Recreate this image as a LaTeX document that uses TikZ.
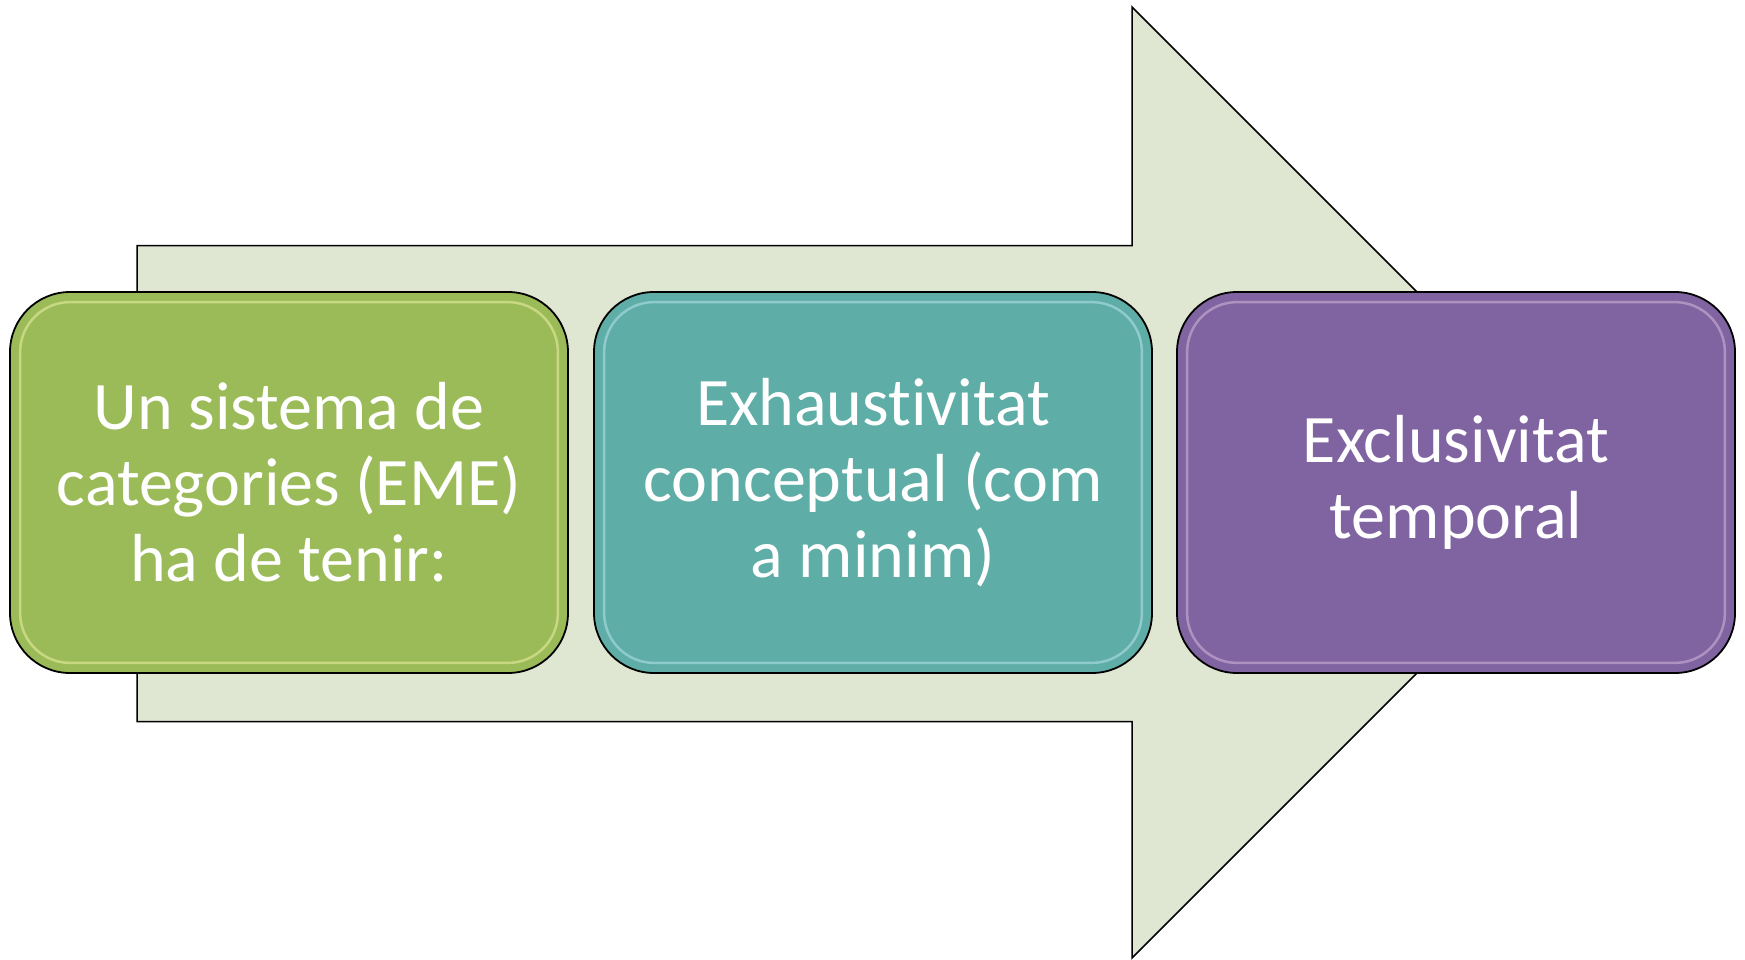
\documentclass[tikz,border=0pt]{standalone}
\usepackage{fontspec}
\setmainfont[RawFeature={-liga}]{Carlito}
\definecolor{arrowfill}{HTML}{DFE6D2}
\definecolor{cgreen}{HTML}{9BBB59}
\definecolor{cteal}{HTML}{5EADA6}
\definecolor{cpurple}{HTML}{8064A2}
\begin{document}
\begin{tikzpicture}[x=1pt,y=-1pt,
  box/.style={draw=black, line width=1.8pt, rounded corners=60pt,
    minimum width=558pt, minimum height=381pt, inner sep=0pt,
    text=white, align=center, font=\fontsize{68}{76}\selectfont},
  gloss/.style={line width=2.5pt, rounded corners=50pt, opacity=0.45}]
\useasboundingbox (0,0) rectangle (1745,960);
% big arrow
\draw[fill=arrowfill, draw=black, line width=1.5pt]
  (137,245.5) -- (1132,245.5) -- (1132,7) -- (1607.5,482.5) -- (1132,958) -- (1132,721.5) -- (137,721.5) -- cycle;
% boxes
\node[box, fill=cgreen] (b1) at (289,482.5) {Un sistema de\\categories (EME)\\ha de tenir:};
\node[box, fill=cteal] (b2) at (873,482.5) {Exhaustivitat\\conceptual (com\\a minim)};
\node[box, fill=cpurple] (b3) at (1456,482.5) {Exclusivitat\\temporal};
% glossy inner rim
\foreach \n/\c in {b1/yellow!30!white, b2/cyan!20!white, b3/violet!20!white}{
  \draw[gloss, draw=\c] ([xshift=11pt,yshift=-11pt]\n.north west) rectangle ([xshift=-11pt,yshift=11pt]\n.south east);
}
\end{tikzpicture}
\end{document}
